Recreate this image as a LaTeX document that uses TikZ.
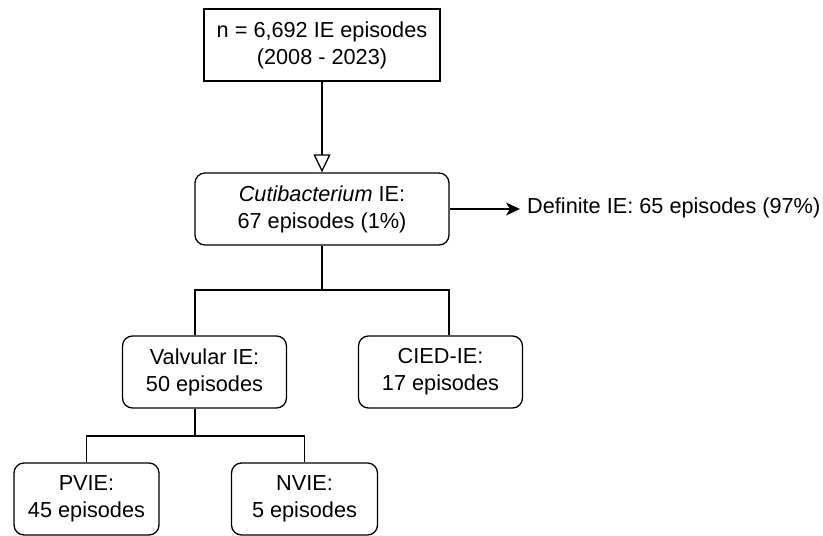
\documentclass[tikz,border=0pt]{standalone}
\usepackage{fontspec}
\setmainfont{Liberation Sans}
\usetikzlibrary{arrows.meta}
\begin{document}
\begin{tikzpicture}[x=1pt,y=-1pt,
  every node/.style={font=\fontsize{21.7}{27}\selectfont, align=center, inner sep=0pt},
  sqbox/.style={draw, line width=1.3pt, minimum height=72pt},
  rbox/.style={draw, line width=1.3pt, rounded corners=10pt, minimum height=72pt},
  conn/.style={line width=1.3pt}]
\useasboundingbox (0,0) rectangle (823,536);
\node[sqbox, minimum width=236pt] (top) at (322,45) {n = 6,692 IE episodes\\(2008 - 2023)};
\node[rbox, minimum width=254pt] (cuti) at (322,209) {\textit{Cutibacterium} IE:\\67 episodes (1\%)};
\node[anchor=west] (def) at (527,208) {Definite IE: 65 episodes (97\%)};
\node[rbox, minimum width=164pt] (valv) at (204.5,372) {Valvular IE:\\50 episodes};
\node[rbox, minimum width=164pt] (cied) at (440.5,372) {CIED-IE:\\17 episodes};
\node[rbox, minimum width=145pt] (pvie) at (86.5,499) {PVIE:\\45 episodes};
\node[rbox, minimum width=146pt] (nvie) at (304.5,499) {NVIE:\\5 episodes};
\draw[conn, -{Triangle[open,length=18pt,width=17pt]}] (top.south) -- (cuti.north);
\draw[conn, -{Stealth[length=14pt,width=13pt,inset=4pt]}] (cuti.east) -- ([xshift=-7pt]cuti.east -| def.west);
\coordinate (j1) at (322,290);
\coordinate (j2) at (195,436);
\draw[conn] (cuti.south) -- (j1);
\draw[conn] ([xshift=-9.5pt]valv.north) |- (j1) -| ([xshift=8.5pt]cied.north);
\draw[conn] (j2 |- valv.south) -- (j2);
\draw[conn] (pvie.north) |- (j2) -| (nvie.north);
\end{tikzpicture}
\end{document}
